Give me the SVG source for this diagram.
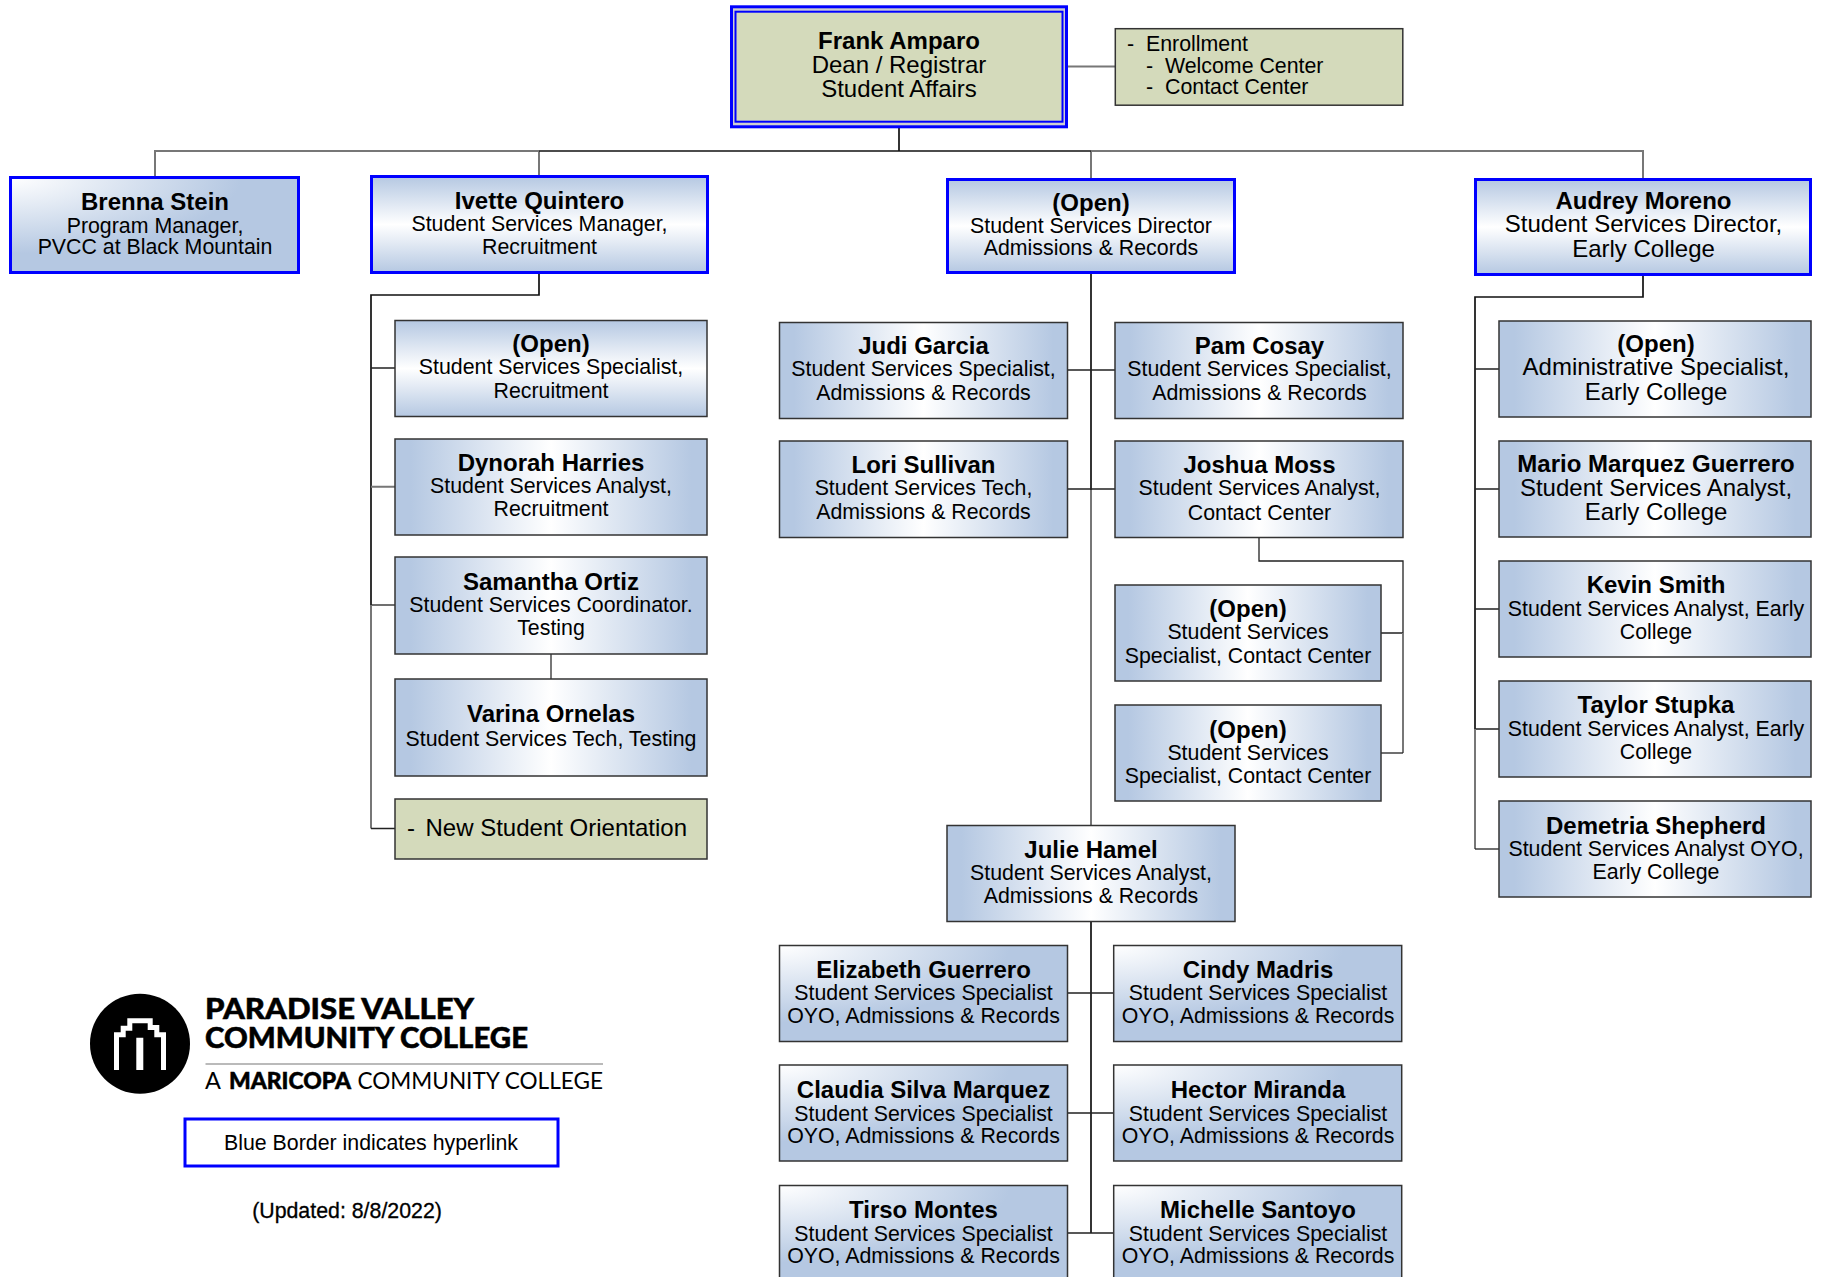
<svg xmlns="http://www.w3.org/2000/svg" width="1822" height="1277" viewBox="0 0 1822 1277">
<style>
text{font-family:"Liberation Sans",Arial,sans-serif;fill:#000;text-anchor:middle;font-size:21.33px}
.n{font-weight:bold;font-size:24px}
.l{font-size:24px}
.st{text-anchor:start}
.dk{fill:none;stroke:#111;stroke-width:1.7}
.tk{fill:none;stroke:#222;stroke-width:1.3}
.gy{fill:none;stroke:#777;stroke-width:2}
.b{stroke:#333;stroke-width:1.5}
.bl{stroke:#0000ff;stroke-width:3}
.logo{font-family:"Lato","Liberation Sans",sans-serif;text-anchor:start}
.hv{font-weight:900;stroke:#000;stroke-width:.5}
</style>
<defs>
<linearGradient id="h" x1="0" y1="0" x2="1" y2="0"><stop offset="0" stop-color="#b5c8e2"/><stop offset=".05" stop-color="#b5c8e2"/><stop offset=".5" stop-color="#fff"/><stop offset=".95" stop-color="#b5c8e2"/><stop offset="1" stop-color="#b5c8e2"/></linearGradient>
<linearGradient id="v" x1="0" y1="0" x2="0" y2="1"><stop offset="0" stop-color="#b5c8e2"/><stop offset=".5" stop-color="#fff"/><stop offset="1" stop-color="#b5c8e2"/></linearGradient>
<radialGradient id="d" cx="0" cy="0" r=".8"><stop offset="0" stop-color="#fff"/><stop offset="1" stop-color="#b5c8e2"/></radialGradient>
</defs>
<rect width="1822" height="1277" fill="#fff"/>
<g id="connectors">
<path class="gy" d="M1068 66.500H1115"/>
<path class="dk" d="M899 128V151"/>
<path class="gy" d="M155 176V151H539M539 151V175M1091 151V178M1091 151H1643V178"/>
<path class="dk" d="M539 151H1091"/>
<path class="dk" d="M539 274V295H371V605"/>
<path class="tk" d="M371 605H395"/>
<path class="gy" d="M371 605V828.500"/>
<path class="tk" d="M371 828.500H395M371 368H395"/>
<path class="gy" d="M371 486.700H395M551 654V679"/>
<path class="dk" d="M1643 276V297H1475V729"/>
<path class="tk" d="M1475 729H1499M1475 369H1499M1475 489H1499M1475 609H1499"/>
<path class="gy" d="M1475 729V849"/>
<path class="tk" d="M1475 849H1499"/>
<path class="dk" d="M1091 274V490"/>
<path class="tk" d="M1067 370H1115M1067 489H1115"/>
<path class="gy" d="M1091 490V825"/>
<path class="tk" d="M1259 537V561H1403V633H1381"/>
<path class="gy" d="M1403 633V753"/>
<path class="tk" d="M1403 753H1381"/>
<path class="dk" d="M1091 922V1233"/>
<path class="tk" d="M1067 993H1114M1067 1113H1114M1067 1233H1114"/>
</g>
<g id="frank"><rect x="731.500" y="6.800" width="335" height="120" fill="#cfcfcf" class="bl"/><rect x="735.500" y="11.700" width="327" height="110" fill="#d4dabb" stroke="#0000ff" stroke-width="2"/>
<text x="899" y="49" class="n">Frank Amparo</text><text x="899" y="73" class="l">Dean / Registrar</text><text x="899" y="97" class="l">Student Affairs</text></g>
<g id="enrollment"><rect x="1115.300" y="28.700" width="287.500" height="76.500" fill="#d4dabb" class="b"/>
<text x="1127" y="51" class="st">-</text><text x="1146" y="51" class="st">Enrollment</text><text x="1146" y="73" class="st">-</text><text x="1165" y="73" class="st">Welcome Center</text><text x="1146" y="94" class="st">-</text><text x="1165" y="94" class="st">Contact Center</text></g>
<g id="brenna"><rect x="10.500" y="177.500" width="288" height="95" fill="url(#d)" class="bl"/>
<text x="155" y="210" class="n">Brenna Stein</text><text x="155" y="233">Program Manager,</text><text x="155" y="254">PVCC at Black Mountain</text></g>
<g id="ivette"><rect x="371.500" y="176.500" width="336" height="96" fill="url(#v)" class="bl"/>
<text x="539.500" y="209" class="n">Ivette Quintero</text><text x="539.500" y="231">Student Services Manager,</text><text x="539.500" y="254">Recruitment</text></g>
<g id="director"><rect x="947.500" y="179.500" width="287" height="93" fill="url(#v)" class="bl"/>
<text x="1091" y="211" class="n">(Open)</text><text x="1091" y="233">Student Services Director</text><text x="1091" y="255">Admissions &amp; Records</text></g>
<g id="audrey"><rect x="1475.500" y="179.500" width="335" height="95" fill="url(#v)" class="bl"/>
<text x="1643.500" y="209" class="n">Audrey Moreno</text><text x="1643.500" y="232" class="l">Student Services Director,</text><text x="1643.500" y="257" class="l">Early College</text></g>
<g id="open-recruitment"><rect x="395" y="320.500" width="312" height="96" fill="url(#v)" class="b"/>
<text x="551" y="352" class="n">(Open)</text><text x="551" y="374">Student Services Specialist,</text><text x="551" y="398">Recruitment</text></g>
<g id="dynorah"><rect x="395" y="439" width="312" height="96" fill="url(#h)" class="b"/>
<text x="551" y="471" class="n">Dynorah Harries</text><text x="551" y="493">Student Services Analyst,</text><text x="551" y="516">Recruitment</text></g>
<g id="samantha"><rect x="395" y="557" width="312" height="97" fill="url(#h)" class="b"/>
<text x="551" y="590" class="n">Samantha Ortiz</text><text x="551" y="612">Student Services Coordinator.</text><text x="551" y="635">Testing</text></g>
<g id="varina"><rect x="395" y="679" width="312" height="97" fill="url(#h)" class="b"/>
<text x="551" y="722" class="n">Varina Ornelas</text><text x="551" y="746">Student Services Tech, Testing</text></g>
<g id="orientation"><rect x="395" y="799" width="312" height="60" fill="#d4dabb" class="b"/>
<text x="407" y="836" class="l st">-</text><text x="425.500" y="836" class="l st">New Student Orientation</text></g>
<g id="judi"><rect x="779.500" y="322.500" width="288" height="96" fill="url(#h)" class="b"/>
<text x="923.500" y="354" class="n">Judi Garcia</text><text x="923.500" y="376">Student Services Specialist,</text><text x="923.500" y="400">Admissions &amp; Records</text></g>
<g id="pam"><rect x="1115" y="322.500" width="288" height="96" fill="url(#h)" class="b"/>
<text x="1259.500" y="354" class="n">Pam Cosay</text><text x="1259.500" y="376">Student Services Specialist,</text><text x="1259.500" y="400">Admissions &amp; Records</text></g>
<g id="lori"><rect x="779.500" y="441" width="288" height="96.500" fill="url(#h)" class="b"/>
<text x="923.500" y="473" class="n">Lori Sullivan</text><text x="923.500" y="495">Student Services Tech,</text><text x="923.500" y="519">Admissions &amp; Records</text></g>
<g id="joshua"><rect x="1115" y="441" width="288" height="96.500" fill="url(#h)" class="b"/>
<text x="1259.500" y="473" class="n">Joshua Moss</text><text x="1259.500" y="495">Student Services Analyst,</text><text x="1259.500" y="520">Contact Center</text></g>
<g id="open-contact-1"><rect x="1115" y="585" width="266" height="96" fill="url(#h)" class="b"/>
<text x="1248" y="617" class="n">(Open)</text><text x="1248" y="639">Student Services</text><text x="1248" y="663">Specialist, Contact Center</text></g>
<g id="open-contact-2"><rect x="1115" y="705" width="266" height="96" fill="url(#h)" class="b"/>
<text x="1248" y="738" class="n">(Open)</text><text x="1248" y="760">Student Services</text><text x="1248" y="783">Specialist, Contact Center</text></g>
<g id="open-admin"><rect x="1499" y="321" width="312" height="96" fill="url(#h)" class="b"/>
<text x="1656" y="352" class="n">(Open)</text><text x="1656" y="375" class="l">Administrative Specialist,</text><text x="1656" y="400" class="l">Early College</text></g>
<g id="mario"><rect x="1499" y="441" width="312" height="96" fill="url(#h)" class="b"/>
<text x="1656" y="472" class="n">Mario Marquez Guerrero</text><text x="1656" y="496" class="l">Student Services Analyst,</text><text x="1656" y="520" class="l">Early College</text></g>
<g id="kevin"><rect x="1499" y="561" width="312" height="96" fill="url(#h)" class="b"/>
<text x="1656" y="593" class="n">Kevin Smith</text><text x="1656" y="616">Student Services Analyst, Early</text><text x="1656" y="639">College</text></g>
<g id="taylor"><rect x="1499" y="681" width="312" height="96" fill="url(#h)" class="b"/>
<text x="1656" y="713" class="n">Taylor Stupka</text><text x="1656" y="736">Student Services Analyst, Early</text><text x="1656" y="759">College</text></g>
<g id="demetria"><rect x="1499" y="801" width="312" height="96" fill="url(#h)" class="b"/>
<text x="1656" y="834" class="n">Demetria Shepherd</text><text x="1656" y="856">Student Services Analyst OYO,</text><text x="1656" y="879">Early College</text></g>
<g id="julie"><rect x="947" y="825.500" width="288" height="96" fill="url(#h)" class="b"/>
<text x="1091" y="858" class="n">Julie Hamel</text><text x="1091" y="880">Student Services Analyst,</text><text x="1091" y="903">Admissions &amp; Records</text></g>
<g id="elizabeth"><rect x="779.500" y="945.500" width="288" height="96" fill="url(#d)" class="b"/>
<text x="923.500" y="978" class="n">Elizabeth Guerrero</text><text x="923.500" y="1000">Student Services Specialist</text><text x="923.500" y="1023">OYO, Admissions &amp; Records</text></g>
<g id="cindy"><rect x="1113.700" y="945.500" width="288" height="96" fill="url(#d)" class="b"/>
<text x="1258" y="978" class="n">Cindy Madris</text><text x="1258" y="1000">Student Services Specialist</text><text x="1258" y="1023">OYO, Admissions &amp; Records</text></g>
<g id="claudia"><rect x="779.500" y="1065" width="288" height="96" fill="url(#d)" class="b"/>
<text x="923.500" y="1098" class="n">Claudia Silva Marquez</text><text x="923.500" y="1120.500">Student Services Specialist</text><text x="923.500" y="1143">OYO, Admissions &amp; Records</text></g>
<g id="hector"><rect x="1113.700" y="1065" width="288" height="96" fill="url(#d)" class="b"/>
<text x="1258" y="1098" class="n">Hector Miranda</text><text x="1258" y="1120.500">Student Services Specialist</text><text x="1258" y="1143">OYO, Admissions &amp; Records</text></g>
<g id="tirso"><rect x="779.500" y="1185.500" width="288" height="96" fill="url(#d)" class="b"/>
<text x="923.500" y="1218" class="n">Tirso Montes</text><text x="923.500" y="1240.500">Student Services Specialist</text><text x="923.500" y="1263">OYO, Admissions &amp; Records</text></g>
<g id="michelle"><rect x="1113.700" y="1185.500" width="288" height="96" fill="url(#d)" class="b"/>
<text x="1258" y="1218" class="n">Michelle Santoyo</text><text x="1258" y="1240.500">Student Services Specialist</text><text x="1258" y="1263">OYO, Admissions &amp; Records</text></g>
<g id="logo">
<circle cx="140" cy="1043.700" r="50" fill="#000"/>
<path fill="#fff" d="M114 1070V1032.300H120.700V1025.700H127.300V1018.300H152.700V1025H159.300V1032.300H166V1070H161V1037.300H154.300V1030H147.700V1023.300H132.300V1030.700H125.700V1037.300H119V1070ZM136.300 1037.700H143.300V1070H136.300Z"/>
<text class="logo hv" x="205" y="1019" font-size="29" textLength="269" lengthAdjust="spacingAndGlyphs" style="font-size:29px">PARADISE VALLEY</text>
<text class="logo hv" x="205" y="1048" font-size="29" textLength="323" lengthAdjust="spacingAndGlyphs" style="font-size:29px">COMMUNITY COLLEGE</text>
<path d="M205.500 1064H603" stroke="#777" stroke-width="1.200" fill="none"/>
<text class="logo" x="205" y="1089" style="font-size:23.500px">A</text>
<text class="logo hv" x="229" y="1089" textLength="122" lengthAdjust="spacingAndGlyphs" style="font-size:23.500px">MARICOPA</text>
<text class="logo" x="357.500" y="1089" textLength="245.500" lengthAdjust="spacingAndGlyphs" style="font-size:23.500px">COMMUNITY COLLEGE</text>
</g>
<g id="legend"><rect x="185" y="1119" width="373" height="47" fill="#fff" class="bl"/>
<text x="371" y="1150">Blue Border indicates hyperlink</text></g>
<text id="updated" x="347" y="1218" stroke="#000" stroke-width=".3">(Updated: 8/8/2022)</text>
</svg>
